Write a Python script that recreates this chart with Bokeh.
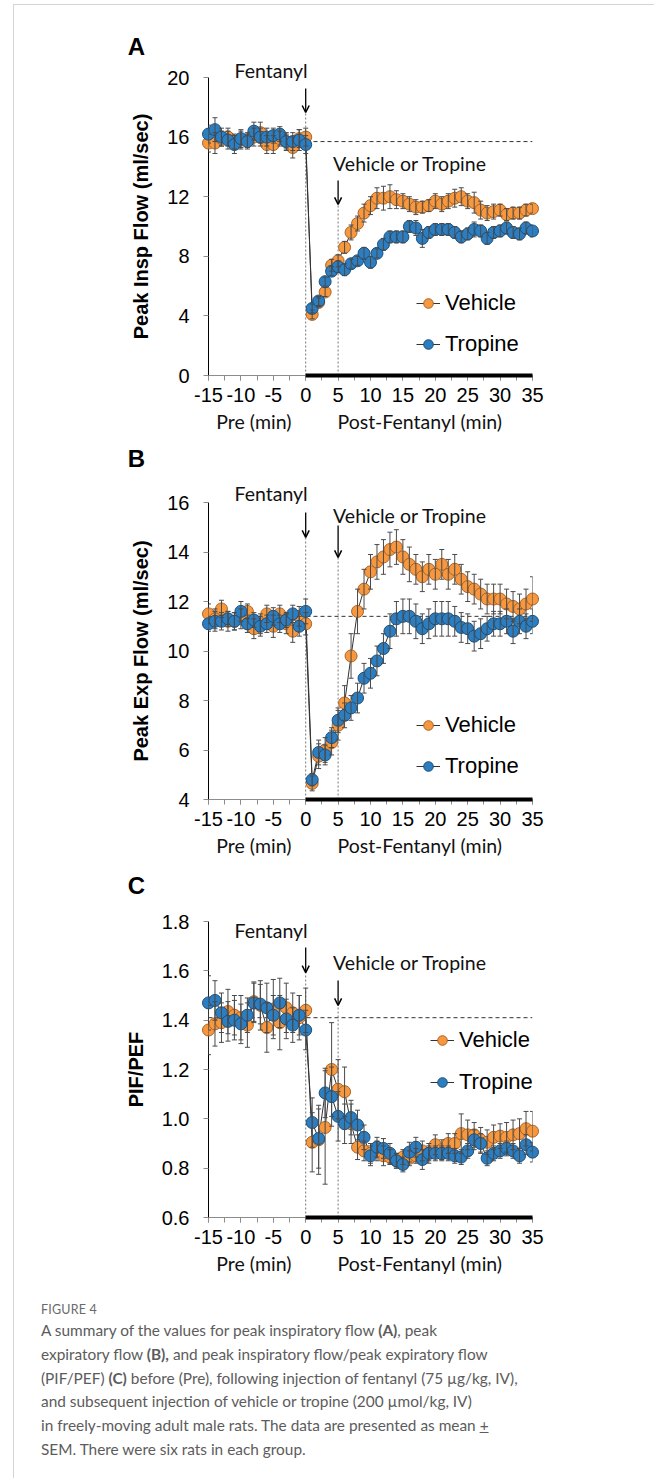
from bokeh.plotting import figure
from bokeh.models import (ColumnDataSource, Whisker, TeeHead, Span, Arrow, OpenHead,
                          FixedTicker, PrintfTickFormatter, Legend, LegendItem, Div)
from bokeh.core.properties import value
from bokeh.layouts import column
from bokeh.embed import file_html
from bokeh.resources import INLINE

# ---------------- data ----------------
minutes = list(range(-15, 36))          # -15..0 pre, 1..35 post-fentanyl
post_period = [0, 35]
event_times = [0, 5]
event_names = ["Fentanyl", "Vehicle or Tropine"]
series_names = ["Vehicle", "Tropine"]
x_ticks = [-15, -10, -5, 0, 5, 10, 15, 20, 25, 30, 35]
x_tick_labels = ["-15", "-10", "-5", "0", "5", "10", "15", "20", "25", "30", "35"]
x_minor = [-15, -12.5, -10, -7.5, -5, -2.5, 0, 2.5, 5, 7.5, 10, 12.5, 15, 17.5, 20,
           22.5, 25, 27.5, 30, 32.5, 35]
period_names = ["Pre (min)", "Post-Fentanyl (min)"]
period_centres = [-8.0, 17.6]

# Panel A: Peak inspiratory flow (ml/sec)
pif_vehicle = [15.6, 15.6, 15.9, 16.0, 15.7, 15.8, 15.8, 16.0, 16.3, 15.5, 15.5, 15.9, 15.7, 15.3, 15.9, 16.0,
               4.1, 4.9, 5.6, 7.4, 7.7, 8.6, 9.6, 10.2, 10.9, 11.4, 11.9, 11.9, 12.0, 11.8, 11.7, 11.5, 11.3, 11.3,
               11.4, 11.7, 11.5, 11.7, 11.9, 12.0, 11.7, 11.6, 11.1, 10.9, 11.0, 11.1, 10.8, 10.9, 10.9, 11.1, 11.2]
pif_vehicle_sem = [0.6, 0.7, 0.5, 0.6, 0.5, 0.6, 0.5, 0.6, 0.7, 0.6, 0.6, 0.5, 0.5, 0.7, 0.6, 0.6,
                   0.3, 0.3, 0.3, 0.4, 0.4, 0.4, 0.5, 0.5, 0.6, 0.6, 0.7, 0.8, 0.8, 0.6, 0.5, 0.5, 0.5, 0.4,
                   0.4, 0.5, 0.5, 0.5, 0.6, 0.6, 0.5, 0.7, 0.6, 0.5, 0.5, 0.4, 0.4, 0.4, 0.4, 0.4, 0.3]
pif_tropine = [16.2, 16.5, 16.0, 15.8, 15.5, 15.9, 15.7, 16.4, 16.0, 16.0, 16.1, 16.2, 15.7, 15.7, 15.8, 15.5,
               4.5, 5.0, 6.3, 7.0, 7.3, 7.1, 7.5, 7.7, 8.2, 7.6, 8.2, 8.8, 9.3, 9.3, 9.3, 10.0, 9.9, 9.2,
               9.6, 9.8, 9.8, 9.8, 9.6, 9.3, 9.5, 9.8, 9.7, 9.2, 9.6, 9.7, 9.9, 9.6, 9.5, 9.9, 9.7]
pif_tropine_sem = [0.6, 0.8, 0.6, 0.6, 0.6, 0.6, 0.5, 0.6, 0.6, 0.6, 0.5, 0.5, 0.6, 0.6, 0.7, 0.6,
                   0.3, 0.3, 0.3, 0.3, 0.4, 0.4, 0.3, 0.3, 0.4, 0.4, 0.3, 0.4, 0.4, 0.4, 0.4, 0.4, 0.5, 0.6,
                   0.4, 0.4, 0.4, 0.4, 0.4, 0.4, 0.4, 0.5, 0.4, 0.4, 0.4, 0.4, 0.4, 0.4, 0.4, 0.4, 0.4]

# Panel B: Peak expiratory flow (ml/sec)
pef_vehicle = [11.5, 11.3, 11.7, 11.2, 11.2, 11.3, 11.6, 10.9, 11.1, 11.5, 11.0, 11.5, 11.1, 10.8, 11.4, 11.1,
               4.65, 5.75, 6.0, 6.3, 7.0, 7.9, 9.8, 11.6, 12.5, 13.2, 13.6, 13.8, 14.1, 14.2, 13.8, 13.5, 13.3,
               13.0, 13.3, 13.1, 13.5, 13.1, 13.3, 12.9, 12.6, 12.5, 12.3, 12.1, 12.1, 12.1, 11.9, 11.8, 11.7,
               11.9, 12.1]
pef_vehicle_sem = [0.4, 0.4, 0.35, 0.4, 0.35, 0.4, 0.3, 0.4, 0.4, 0.35, 0.45, 0.35, 0.4, 0.45, 0.4, 0.45,
                   0.3, 0.5, 0.5, 0.5, 0.6, 0.7, 0.9, 0.9, 0.8, 0.7, 0.7, 0.7, 0.7, 0.7, 0.7, 0.7, 0.6,
                   0.6, 0.6, 0.6, 0.6, 0.6, 0.6, 0.6, 0.6, 0.6, 0.6, 0.6, 0.6, 0.6, 0.6, 0.6, 0.6, 0.6, 0.9]
pef_tropine = [11.1, 11.2, 11.2, 11.3, 11.2, 11.6, 11.1, 11.25, 11.0, 11.1, 11.4, 11.1, 11.25, 11.5, 11.0, 11.6,
               4.8, 5.9, 5.8, 6.5, 7.2, 7.4, 7.7, 8.1, 8.9, 9.1, 9.6, 10.1, 10.8, 11.3, 11.4, 11.4, 11.2,
               10.9, 11.1, 11.3, 11.3, 11.3, 11.2, 10.95, 10.9, 10.6, 10.7, 10.9, 11.1, 11.1, 11.2, 10.8, 11.2,
               11.0, 11.2]
pef_tropine_sem = [0.3, 0.4, 0.35, 0.3, 0.35, 0.4, 0.35, 0.3, 0.4, 0.35, 0.35, 0.35, 0.3, 0.35, 0.4, 0.5,
                   0.25, 0.5, 0.4, 0.4, 0.5, 0.5, 0.5, 0.6, 0.6, 0.6, 0.6, 0.6, 0.7, 0.7, 0.7, 0.7, 0.7,
                   0.6, 0.6, 0.7, 0.7, 0.7, 0.6, 0.6, 0.6, 0.6, 0.6, 0.5, 0.5, 0.5, 0.5, 0.5, 0.5, 0.5, 0.5]

# Panel C: PIF/PEF
ratio_vehicle = [1.36, 1.385, 1.39, 1.435, 1.42, 1.41, 1.38, 1.475, 1.46, 1.37, 1.445, 1.39, 1.45, 1.43, 1.41, 1.44,
                 0.905, 0.915, 0.965, 1.2, 1.12, 1.11, 0.98, 0.885, 0.87, 0.86, 0.87, 0.85, 0.845, 0.83, 0.845,
                 0.84, 0.85, 0.87, 0.86, 0.895, 0.875, 0.9, 0.9, 0.94, 0.935, 0.935, 0.915, 0.905, 0.925, 0.93,
                 0.925, 0.935, 0.94, 0.96, 0.95]
ratio_vehicle_sem = [0.10, 0.09, 0.08, 0.09, 0.08, 0.09, 0.09, 0.08, 0.10, 0.10, 0.12, 0.11, 0.10, 0.08, 0.09, 0.09,
                     0.12, 0.14, 0.23, 0.19, 0.12, 0.10, 0.08, 0.05, 0.04, 0.04, 0.04, 0.04, 0.03, 0.03, 0.03,
                     0.03, 0.03, 0.04, 0.03, 0.04, 0.04, 0.04, 0.04, 0.08, 0.06, 0.05, 0.05, 0.05, 0.05, 0.05,
                     0.06, 0.06, 0.06, 0.07, 0.08]
ratio_tropine = [1.47, 1.48, 1.43, 1.395, 1.40, 1.385, 1.42, 1.47, 1.465, 1.45, 1.42, 1.47, 1.405, 1.38, 1.42, 1.36,
                 0.985, 0.92, 1.105, 1.09, 1.01, 0.98, 1.005, 0.975, 0.925, 0.85, 0.885, 0.88, 0.86, 0.83,
                 0.815, 0.865, 0.885, 0.835, 0.86, 0.86, 0.86, 0.86, 0.85, 0.845, 0.87, 0.915, 0.9, 0.84, 0.86,
                 0.87, 0.88, 0.87, 0.85, 0.895, 0.865]
ratio_tropine_sem = [0.11, 0.08, 0.08, 0.08, 0.08, 0.08, 0.07, 0.08, 0.08, 0.10, 0.08, 0.10, 0.08, 0.07, 0.08, 0.08,
                     0.10, 0.12, 0.10, 0.12, 0.10, 0.08, 0.07, 0.06, 0.05, 0.04, 0.04, 0.04, 0.04, 0.03, 0.03,
                     0.04, 0.04, 0.04, 0.04, 0.03, 0.03, 0.03, 0.03, 0.03, 0.03, 0.04, 0.04, 0.03, 0.03, 0.03,
                     0.03, 0.03, 0.03, 0.04, 0.04]

# pre-fentanyl reference levels (dashed lines)
baseline_pif = 15.7
baseline_pef = 11.4
baseline_ratio = 1.41

# ---------------- styles ----------------
ORANGE, ORANGE_EDGE = "#F7983F", "#A9642A"
BLUE, BLUE_EDGE = "#2C7EC0", "#1D4F7A"
AX_FONT = "Liberation Sans"
TXT_FONT = "Lato"
TXT_SIZE = "19.5px"
FIG_W = 640
BORDER_L, BORDER_R = 194, 122
X_RANGE = (-15, 35)


def add_text(p, x, y, s, font, size, align, baseline, style="normal", color="#111111", dx=0):
    p.text(x=[x], y=[y], text=[s], text_font=value(font), text_font_size=value(size),
           text_align=align, text_baseline=baseline, text_font_style=style,
           text_color=color, x_offset=dx, level="overlay")


def make_panel(letter, ylabel, yr, yticks, fmt, veh, veh_sem, tro, tro_sem, base, cfg, geom):
    p = figure(width=FIG_W, height=geom["h"], x_range=X_RANGE, y_range=yr,
               output_backend="svg", toolbar_location=None,
               min_border_left=BORDER_L, min_border_right=BORDER_R,
               min_border_top=geom["top"], min_border_bottom=geom["bottom"])
    p.grid.visible = False
    p.outline_line_color = None
    p.background_fill_color = "white"
    p.border_fill_color = "white"

    # pixel scales of the frame (for placing text outside the frame)
    xscale = (FIG_W - BORDER_L - BORDER_R) / (X_RANGE[1] - X_RANGE[0])
    yscale = (geom["h"] - geom["top"] - geom["bottom"]) / (yr[1] - yr[0])

    # axes
    xa = p.xaxis[0]
    xa.ticker = FixedTicker(ticks=x_ticks, minor_ticks=x_minor)
    xa.major_label_overrides = {t: s for t, s in zip(x_ticks, x_tick_labels)}
    xa.axis_line_color = "#8c8c8c"
    xa.major_tick_line_color = "#8c8c8c"
    xa.minor_tick_line_color = "#8c8c8c"
    xa.major_tick_out = 5
    xa.major_tick_in = 0
    xa.minor_tick_out = 5
    xa.minor_tick_in = 0
    xa.major_label_text_font = AX_FONT
    xa.major_label_text_font_size = "20px"
    xa.major_label_text_color = "black"
    xa.major_label_standoff = 7

    ya = p.yaxis[0]
    ya.ticker = FixedTicker(ticks=yticks, minor_ticks=[])
    ya.formatter = PrintfTickFormatter(format=fmt)
    ya.axis_line_color = "black"
    ya.major_tick_line_color = "#8c8c8c"
    ya.major_tick_out = 5
    ya.major_tick_in = 0
    ya.minor_tick_line_color = None
    ya.major_label_text_font = AX_FONT
    ya.major_label_text_font_size = "20px"
    ya.major_label_text_color = "black"
    ya.major_label_standoff = 14
    ya.axis_label = ylabel
    ya.axis_label_text_font = AX_FONT
    ya.axis_label_text_font_style = "bold"
    ya.axis_label_text_font_size = "20px"
    ya.axis_label_text_color = "black"
    ya.axis_label_standoff = 12

    # pre-fentanyl reference level
    p.add_layout(Span(location=base, dimension="width", line_color="#333333",
                      line_width=1, line_dash="4 3", level="underlay"))

    # event markers: dotted line, arrow and label
    tips = [cfg["fent_arrow"][1], cfg["vt_arrow"][1]]
    p.segment(x0=event_times, y0=[yr[0]] * 2, x1=event_times, y1=tips,
              line_color="#777777", line_width=1, line_dash="2 2")
    for t, (y0, y1) in zip(event_times, [cfg["fent_arrow"], cfg["vt_arrow"]]):
        p.add_layout(Arrow(x_start=t, y_start=y0, x_end=t, y_end=y1,
                           line_color="black", line_width=1.3, level="overlay",
                           end=OpenHead(size=7, line_color="black", line_width=1.5)))
    add_text(p, event_times[0], cfg["fent_y"], event_names[0], TXT_FONT, TXT_SIZE, "right", "middle", dx=2)
    add_text(p, event_times[1], cfg["vt_y"], event_names[1], TXT_FONT, TXT_SIZE, "left", "middle", dx=-5)

    # period labels under the x axis
    for xc, name in zip(period_centres, period_names):
        add_text(p, xc, yr[0] - 46 / yscale, name, TXT_FONT, TXT_SIZE, "center", "middle")

    # panel letter
    add_text(p, X_RANGE[0] - 72 / xscale, yr[1] + geom["letter"] / yscale, letter, AX_FONT, "24px",
             "center", "middle", style="bold", color="black")

    # post-fentanyl bar
    p.segment(x0=[post_period[0]], y0=[yr[0]], x1=[post_period[1]], y1=[yr[0]],
              line_color="black", line_width=4, level="overlay")

    # error bars
    for vals, sem in [(veh, veh_sem), (tro, tro_sem)]:
        src = ColumnDataSource(dict(x=minutes,
                                    upper=[v + s for v, s in zip(vals, sem)],
                                    lower=[v - s for v, s in zip(vals, sem)]))
        p.add_layout(Whisker(source=src, base="x", upper="upper", lower="lower",
                             line_color="#4a4a4a", line_width=1, level="overlay",
                             upper_head=TeeHead(size=5, line_color="#4a4a4a", line_width=1),
                             lower_head=TeeHead(size=5, line_color="#4a4a4a", line_width=1)))

    lv = p.line(minutes, veh, line_color="#333333", line_width=1, level="overlay")
    lt = p.line(minutes, tro, line_color="#333333", line_width=1, level="overlay")
    sv = p.scatter(minutes, veh, size=12, fill_color=ORANGE, line_color=ORANGE_EDGE,
                   line_width=1, level="overlay")
    st = p.scatter(minutes, tro, size=12, fill_color=BLUE, line_color=BLUE_EDGE,
                   line_width=1, level="overlay")

    leg = Legend(items=[LegendItem(label=series_names[0], renderers=[lv, sv]),
                        LegendItem(label=series_names[1], renderers=[lt, st])],
                 location=cfg["legend_loc"], orientation="vertical",
                 glyph_width=24, glyph_height=28, label_height=28, label_width=80,
                 spacing=cfg["legend_spacing"], padding=0, margin=0, label_standoff=5,
                 border_line_alpha=0, background_fill_alpha=0,
                 label_text_font=AX_FONT, label_text_font_size="22px",
                 label_text_color="black", label_text_baseline="middle")
    p.add_layout(leg, "center")
    return p


pA = make_panel("A", "Peak Insp Flow (ml/sec)", (0, 20), [0, 4, 8, 12, 16, 20], "%d",
                pif_vehicle, pif_vehicle_sem, pif_tropine, pif_tropine_sem, baseline_pif,
                dict(fent_y=20.47, fent_arrow=(19.26, 17.65), vt_y=14.23, vt_arrow=(13.09, 11.48),
                     legend_loc=(208, 17), legend_spacing=13),
                dict(h=435, top=72, bottom=65, letter=31))
pB = make_panel("B", "Peak Exp Flow (ml/sec)", (4, 16), [4, 6, 8, 10, 12, 14, 16], "%d",
                pef_vehicle, pef_vehicle_sem, pef_tropine, pef_tropine_sem, baseline_pef,
                dict(fent_y=16.36, fent_arrow=(15.6, 14.59), vt_y=15.47, vt_arrow=(15.07, 13.78),
                     legend_loc=(208, 19), legend_spacing=13),
                dict(h=424, top=62, bottom=65, letter=44))
pC = make_panel("C", "PIF/PEF", (0.6, 1.8), [0.6, 0.8, 1.0, 1.2, 1.4, 1.6, 1.8], "%.1f",
                ratio_vehicle, ratio_vehicle_sem, ratio_tropine, ratio_tropine_sem, baseline_ratio,
                dict(fent_y=1.764, fent_arrow=(1.695, 1.593), vt_y=1.634, vt_arrow=(1.561, 1.46),
                     legend_loc=(222, 121), legend_spacing=14),
                dict(h=418, top=57, bottom=65, letter=36))

caption_html = (
    '<div style="padding-left:22px;padding-top:14px;font-family:Lato,sans-serif;color:#5c5c5c;">'
    '<div style="font-size:12.5px;line-height:18px;color:#6a6a6a;letter-spacing:0.2px;">FIGURE 4</div>'
    '<div style="font-size:15.4px;line-height:23.8px;white-space:nowrap;">'
    'A summary of the values for peak inspiratory flow <b>(A)</b>, peak<br>'
    'expiratory flow <b>(B),</b> and peak inspiratory flow/peak expiratory flow<br>'
    '(PIF/PEF) <b>(C)</b> before (Pre), following injection of fentanyl (75 \u00b5g/kg, IV),<br>'
    'and subsequent injection of vehicle or tropine (200 \u00b5mol/kg, IV)<br>'
    'in freely-moving adult male rats. The data are presented as mean <u>+</u><br>'
    'SEM. There were six rats in each group.'
    '</div></div>'
)
caption = Div(text=caption_html, width=640, height=196)

layout = column(pA, pB, pC, caption, spacing=0,
                styles={"margin-left": "13px", "margin-top": "4px",
                        "border-left": "1px solid #d4d4d4", "border-top": "1px solid #d4d4d4",
                        "background-color": "white"})

open("out.html", "w").write(file_html(layout, INLINE))
